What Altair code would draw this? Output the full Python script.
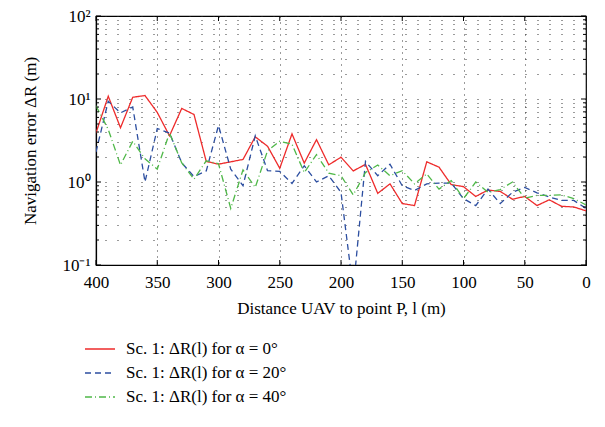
import altair as alt
import pandas as pd

distance = [400, 390, 380, 370, 360, 350, 340, 330, 320, 310, 300, 290, 280, 270, 260,
            250, 240, 230, 220, 210, 200, 190, 180, 170, 160, 150, 140, 130, 120, 110,
            100, 90, 80, 70, 60, 50, 40, 30, 20, 10, 0]

err_a0 = [3.9, 10.8, 4.5, 10.5, 11.0, 6.9, 3.6, 7.7, 6.5, 1.77, 1.64, 1.75, 1.87, 3.5, 2.7,
          1.46, 3.8, 1.69, 3.24, 1.61, 1.99, 1.36, 1.63, 0.73, 0.95, 0.55, 0.52, 1.75, 1.51, 0.93,
          0.88, 0.67, 0.80, 0.77, 0.62, 0.67, 0.52, 0.61, 0.51, 0.50, 0.45]

err_a20 = [2.3, 9.4, 6.8, 8.0, 1.0, 4.4, 3.9, 1.7, 1.16, 1.36, 4.8, 1.43, 0.90, 3.6, 1.37,
           1.34, 0.96, 1.57, 1.0, 1.19, 0.75, 0.05, 1.77, 1.19, 1.64, 0.90, 0.79, 0.95, 0.97, 0.97,
           0.63, 0.52, 0.82, 0.55, 0.75, 0.86, 0.74, 0.66, 0.60, 0.60, 0.48]

err_a40 = [8.3, 4.3, 1.6, 3.1, 1.9, 1.43, 3.9, 1.7, 1.08, 1.8, 1.66, 0.48, 1.4, 0.86, 2.37,
           3.1, 2.85, 1.3, 2.14, 1.28, 1.19, 0.70, 1.3, 1.6, 1.19, 1.37, 0.95, 1.25, 0.82, 1.04,
           0.63, 1.0, 0.75, 0.81, 1.0, 0.64, 0.69, 0.69, 0.70, 0.63, 0.53]

series_names = ["Sc. 1: ΔR(l) for α = 0°", "Sc. 1: ΔR(l) for α = 20°", "Sc. 1: ΔR(l) for α = 40°"]
series_colors = ["#ee2b2b", "#2c4ea0", "#4fb848"]
series_dash = [[1, 0], [6, 4], [7, 3, 1, 3]]

x_ticks = [400, 350, 300, 250, 200, 150, 100, 50, 0]
y_major = [0.1, 1, 10, 100]
y_minor = [0.2, 0.3, 0.4, 0.5, 0.6, 0.7, 0.8, 0.9,
           2, 3, 4, 5, 6, 7, 8, 9,
           20, 30, 40, 50, 60, 70, 80, 90]

W, H = 490, 249
FONT = "Liberation Serif"

rows = []
for name, vals in zip(series_names, [err_a0, err_a20, err_a40]):
    for d, v in zip(distance, vals):
        rows.append({"distance": d, "error": v, "series": name})
df = pd.DataFrame(rows)

x_scale = alt.Scale(domain=[0, 400], reverse=True, nice=False)
y_scale = alt.Scale(type="log", domain=[0.1, 100], nice=False)

label_expr = ("datum.value == 0.1 ? '10⁻¹' : datum.value == 1 ? '10⁰' : "
              "datum.value == 10 ? '10¹' : datum.value == 100 ? '10²' : ''")

legend_opts = dict(title=None, orient="none", legendX=-12, legendY=317,
                   symbolType="stroke", symbolSize=900, symbolStrokeWidth=1.5,
                   labelOffset=10, rowPadding=-6, padding=0)

lines = alt.Chart(df).mark_line(strokeWidth=1.3, clip=True).encode(
    x=alt.X("distance:Q", scale=x_scale,
            axis=alt.Axis(values=x_ticks, title="Distance UAV to point P, l (m)",
                          ticks=False, labelPadding=9, titlePadding=10, labelFlush=False,
                          grid=True, gridDash=[1, 5], gridColor="#222", gridOpacity=0.9)),
    y=alt.Y("error:Q", scale=y_scale,
            axis=alt.Axis(values=y_major + y_minor, labelExpr=label_expr, labelOverlap=False,
                          title="Navigation error ΔR (m)", ticks=False, labelPadding=6,
                          titlePadding=22, grid=True, gridDash=[1, 11], gridColor="#222",
                          gridOpacity=0.9)),
    color=alt.Color("series:N", scale=alt.Scale(domain=series_names, range=series_colors),
                    legend=alt.Legend(**legend_opts)),
    strokeDash=alt.StrokeDash("series:N",
                              scale=alt.Scale(domain=series_names, range=series_dash),
                              legend=alt.Legend(**legend_opts)),
)

xt = pd.DataFrame({"distance": x_ticks})
ymaj = pd.DataFrame({"error": y_major})
ymin = pd.DataFrame({"error": y_minor})

tick_style = dict(color="black", strokeWidth=1)
xb = alt.Chart(xt).mark_rule(**tick_style).encode(
    x=alt.X("distance:Q", scale=x_scale), y=alt.value(H), y2=alt.value(H - 5))
xtop = alt.Chart(xt).mark_rule(**tick_style).encode(
    x=alt.X("distance:Q", scale=x_scale), y=alt.value(0), y2=alt.value(5))
yl_maj = alt.Chart(ymaj).mark_rule(**tick_style).encode(
    y=alt.Y("error:Q", scale=y_scale), x=alt.value(0), x2=alt.value(5))
yr_maj = alt.Chart(ymaj).mark_rule(**tick_style).encode(
    y=alt.Y("error:Q", scale=y_scale), x=alt.value(W), x2=alt.value(W - 5))
yl_min = alt.Chart(ymin).mark_rule(**tick_style).encode(
    y=alt.Y("error:Q", scale=y_scale), x=alt.value(0), x2=alt.value(3))
yr_min = alt.Chart(ymin).mark_rule(**tick_style).encode(
    y=alt.Y("error:Q", scale=y_scale), x=alt.value(W), x2=alt.value(W - 3))

chart = alt.layer(lines, xb, xtop, yl_maj, yr_maj, yl_min, yr_min).properties(
    width=W, height=H,
    autosize=alt.AutoSizeParams(type="none"),
    padding={"left": 88, "top": 8, "right": 11, "bottom": 154},
).configure_view(
    stroke="black", strokeWidth=1.2
).configure_axis(
    labelFont=FONT, titleFont=FONT, labelFontSize=17, titleFontSize=17,
    labelColor="black", titleColor="black", titleFontWeight="normal",
    domainColor="black", domainWidth=1.2
).configure_legend(
    labelFont=FONT, labelFontSize=17, labelColor="black", labelLimit=400
)

chart.save("out.html", embed_options={"renderer": "svg", "actions": False})
